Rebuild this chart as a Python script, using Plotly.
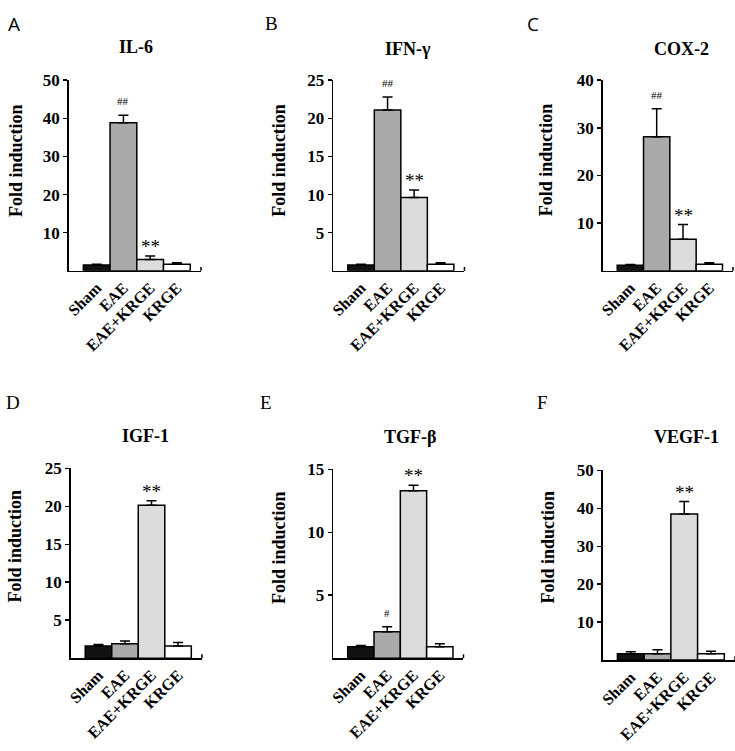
import plotly.graph_objects as go

categories = ["Sham", "EAE", "EAE+KRGE", "KRGE"]

il6_mean = [1.5, 38.8, 3.0, 1.7]
il6_err = [0.2, 2.0, 0.9, 0.4]
ifng_mean = [0.75, 21.1, 9.6, 0.85]
ifng_err = [0.1, 1.7, 1.0, 0.2]
cox2_mean = [1.15, 28.1, 6.6, 1.4]
cox2_err = [0.2, 5.9, 3.1, 0.3]
igf1_mean = [1.6, 1.9, 20.15, 1.6]
igf1_err = [0.2, 0.35, 0.6, 0.45]
tgfb_mean = [0.9, 2.1, 13.3, 0.9]
tgfb_err = [0.1, 0.4, 0.45, 0.25]
vegf1_mean = [1.7, 1.7, 38.5, 1.7]
vegf1_err = [0.5, 1.0, 3.3, 0.6]

titles = ["IL-6", "IFN-γ", "COX-2", "IGF-1", "TGF-β", "VEGF-1"]
letters = ["A", "B", "C", "D", "E", "F"]
yticks = [[10, 20, 30, 40, 50], [5, 10, 15, 20, 25], [10, 20, 30, 40],
          [5, 10, 15, 20, 25], [5, 10, 15], [10, 20, 30, 40, 50]]
ymax = [50, 25, 40, 25, 15, 50]
marks = [{1: "##", 2: "**"}, {1: "##", 2: "**"}, {1: "##", 2: "**"},
         {2: "**"}, {1: "#", 2: "**"}, {2: "**"}]
means = [il6_mean, ifng_mean, cox2_mean, igf1_mean, tgfb_mean, vegf1_mean]
errs = [il6_err, ifng_err, cox2_err, igf1_err, tgfb_err, vegf1_err]

bar_colors = ["#121212", "#aaaaaa", "#dcdcdc", "#ffffff"]

W, H = 735, 751
# pixel layout of each panel: (x0, x1, ytop, ybottom)
boxes = [(65, 198, 72, 265), (331, 463, 72, 265), (602, 733, 72, 265),
         (67, 199, 465, 657), (331, 462, 466, 657), (602, 735, 467, 659)]
title_pos = [(133, 38), (406, 40), (681, 40), (142, 432), (408, 433), (686, 433)]
letter_pos = [(10, 15), (269, 15), (532, 15), (9, 398), (263, 398), (541, 398)]
letter_fonts = ["Open Sans", "Liberation Serif", "Open Sans",
                "Liberation Serif", "Liberation Serif", "Liberation Serif"]
ytitle_pos = [(12, 153), (277, 153), (545, 153), (12, 543), (277, 545), (547, 545)]

serif = "Liberation Serif"
fig = go.Figure()
layout = dict(width=W, height=H, margin=dict(l=0, r=0, t=0, b=0),
              paper_bgcolor="white", plot_bgcolor="white", showlegend=False,
              bargap=0)
annotations = []
shapes = []

for i in range(6):
    n = i + 1
    xa = "x" if n == 1 else f"x{n}"
    ya = "y" if n == 1 else f"y{n}"
    fig.add_trace(go.Bar(
        x=categories, y=means[i], xaxis=xa, yaxis=ya,
        marker=dict(color=bar_colors, line=dict(color="black", width=1.5)),
        error_y=dict(type="data", array=errs[i], arrayminus=[0] * 4,
                     symmetric=False, color="black", thickness=1.5, width=5),
        width=1.0,
    ))
    x0, x1, yt, yb = boxes[i]
    layout[f"xaxis{'' if n == 1 else n}"] = dict(
        domain=[x0 / W, x1 / W], anchor=ya, range=[-1.05, 3.9],
        showline=True, linecolor="black", linewidth=1.5, ticks="",
        tickangle=-45,
        tickfont=dict(family=serif, size=16, color="black", weight="bold"),
        showgrid=False, zeroline=False, fixedrange=True)
    layout[f"yaxis{'' if n == 1 else n}"] = dict(
        domain=[1 - yb / H, 1 - yt / H], anchor=xa, range=[0, ymax[i]],
        tickvals=yticks[i], showline=True, linecolor="black", linewidth=1.5,
        ticks="outside", ticklen=4, tickwidth=1.5, tickcolor="black",
        tickfont=dict(family=serif, size=17, color="black", weight="bold"),
        showgrid=False, zeroline=False, fixedrange=True)
    # right-end tick of x axis
    shapes.append(dict(type="line", xref=f"{xa} domain", yref=f"{ya} domain",
                       x0=1, x1=1, y0=0, y1=0.02,
                       line=dict(color="black", width=1.5)))
    # significance marks
    for k, txt in marks[i].items():
        small = txt.startswith("#")
        annotations.append(dict(
            x=categories[k], y=means[i][k] + errs[i][k], xref=xa, yref=ya,
            text=txt, showarrow=False, yanchor="bottom", xanchor="center",
            yshift=6 if small else -3,
            font=dict(family=serif, size=11 if small else 19, color="black")))
    # titles
    tx, ty = title_pos[i]
    annotations.append(dict(x=tx / W, y=1 - ty / H, xref="paper", yref="paper",
                            xanchor="center", yanchor="middle",
                            text=f"<b>{titles[i]}</b>", showarrow=False,
                            font=dict(family=serif, size=18, color="black")))
    lx, ly = letter_pos[i]
    annotations.append(dict(x=lx / W, y=1 - ly / H, xref="paper", yref="paper",
                            xanchor="center", yanchor="middle",
                            text=letters[i], showarrow=False,
                            font=dict(family=letter_fonts[i], size=19, color="black")))
    ax_, ay_ = ytitle_pos[i]
    annotations.append(dict(x=ax_ / W, y=1 - ay_ / H, xref="paper", yref="paper",
                            xanchor="center", yanchor="middle",
                            text="<b>Fold induction</b>", showarrow=False,
                            textangle=-90,
                            font=dict(family=serif, size=18, color="black")))

layout["annotations"] = annotations
layout["shapes"] = shapes
fig.update_layout(**layout)
fig.write_html("out.html",
               config={"displayModeBar": False, "staticPlot": True},
               post_script="document.body.style.margin='0';"
                           "document.body.style.overflow='hidden';")
